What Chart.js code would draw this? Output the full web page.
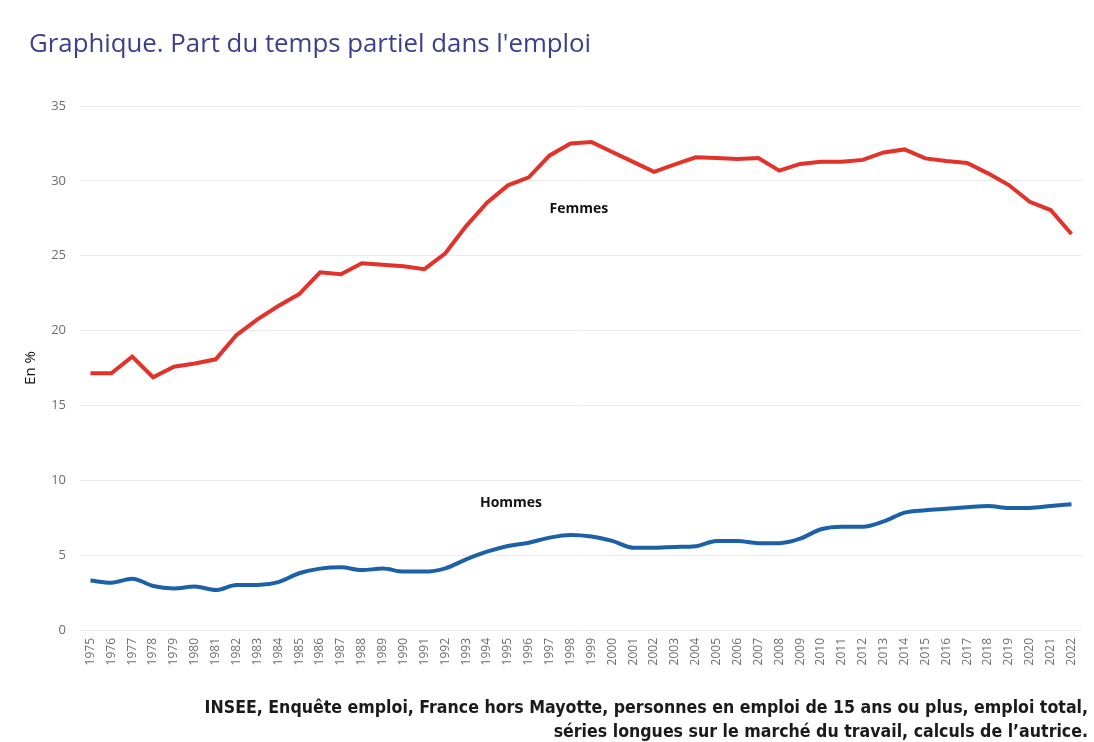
<!DOCTYPE html>
<html>
<head>
<meta charset="utf-8">
<script src="https://cdn.jsdelivr.net/npm/chart.js@4"></script>
<style>
  html, body { margin: 0; padding: 0; background: #fff; }
  #wrap { width: 1094px; height: 742px; position: relative; }
</style>
</head>
<body>
<div id="wrap"><canvas id="myChart" width="1094" height="742"></canvas></div>
<script>
const years = ["1975","1976","1977","1978","1979","1980","1981","1982","1983","1984",
  "1985","1986","1987","1988","1989","1990","1991","1992","1993","1994",
  "1995","1996","1997","1998","1999","2000","2001","2002","2003","2004",
  "2005","2006","2007","2008","2009","2010","2011","2012","2013","2014",
  "2015","2016","2017","2018","2019","2020","2021","2022"];

const femmes = [17.15, 17.15, 18.26, 16.88, 17.59, 17.8, 18.08, 19.7, 20.75, 21.64,
  22.44, 23.89, 23.76, 24.5, 24.4, 24.3, 24.1, 25.16, 26.98, 28.54,
  29.7, 30.24, 31.7, 32.5, 32.6, 31.93, 31.27, 30.6, 31.1, 31.57,
  31.53, 31.46, 31.53, 30.68, 31.13, 31.28, 31.28, 31.4, 31.9, 32.1,
  31.5, 31.33, 31.2, 30.5, 29.72, 28.6, 28.05, 26.45];

const hommes = [3.3, 3.16, 3.43, 2.94, 2.78, 2.9, 2.67, 3.0, 3.0, 3.2,
  3.79, 4.1, 4.19, 4.0, 4.1, 3.9, 3.9, 4.12, 4.72, 5.23,
  5.61, 5.83, 6.17, 6.35, 6.25, 5.95, 5.5, 5.5, 5.55, 5.6,
  5.95, 5.95, 5.8, 5.8, 6.1, 6.73, 6.9, 6.9, 7.25, 7.84,
  8.0, 8.1, 8.2, 8.28, 8.15, 8.15, 8.28, 8.4];

const yTicks = [0, 5, 10, 15, 20, 25, 30, 35];

const titleText = "Graphique. Part du temps partiel dans l'emploi";
const sourceLines = [
  "INSEE, Enquête emploi, France hors Mayotte, personnes en emploi de 15 ans ou plus, emploi total,",
  "séries longues sur le marché du travail, calculs de l’autrice."
];

// series labels drawn inside the plot (index position on the category axis, value)
const seriesLabels = [
  { text: "Femmes", x: 23.4, y: 28.1 },
  { text: "Hommes", x: 20.15, y: 8.5 }
];

const textPlugin = {
  id: "texts",
  afterDraw(chart) {
    const ctx = chart.ctx;
    const xs = chart.scales.x, ys = chart.scales.y;
    ctx.save();
    ctx.fillStyle = "#3b3f8c";
    ctx.font = "25.8px 'Open Sans'";
    ctx.textAlign = "left";
    ctx.textBaseline = "alphabetic";
    ctx.fillText(titleText, 29, 52);

    ctx.fillStyle = "#111";
    ctx.font = "bold 14px 'Open Sans'";
    ctx.textAlign = "center";
    ctx.textBaseline = "middle";
    seriesLabels.forEach(l => {
      ctx.fillText(l.text, xs.getPixelForValue(l.x), ys.getPixelForValue(l.y));
    });

    ctx.fillStyle = "#1a1a1a";
    ctx.font = "bold 17.6px 'DejaVu Sans Condensed'";
    ctx.textAlign = "right";
    ctx.textBaseline = "alphabetic";
    ctx.fillText(sourceLines[0], 1088, 713);
    ctx.fillText(sourceLines[1], 1088, 737);
    ctx.restore();
  }
};

const ctx = document.getElementById("myChart").getContext("2d");
new Chart(ctx, {
  type: "line",
  data: {
    labels: years,
    datasets: [{
      label: "Femmes",
      data: femmes,
      borderColor: "#e2322a",
      borderWidth: 4,
      pointRadius: 0,
      tension: 0
    }, {
      label: "Hommes",
      data: hommes,
      borderColor: "#1c61a8",
      borderWidth: 4,
      pointRadius: 0,
      tension: 0.4,
      cubicInterpolationMode: "monotone"
    }]
  },
  options: {
    responsive: false,
    animation: false,
    layout: { padding: { left: 22, right: 12, top: 106, bottom: 52 } },
    plugins: {
      legend: { display: false },
      tooltip: { enabled: false }
    },
    scales: {
      x: {
        offset: true,
        grid: { display: false, drawTicks: false },
        border: { display: false },
        ticks: {
          autoSkip: false,
          maxRotation: 90,
          minRotation: 90,
          padding: 8,
          color: "#6e6e6e",
          font: { family: "'Open Sans'", size: 12 }
        },
        afterFit: s => { s.height = 60; }
      },
      y: {
        min: 0,
        max: 35,
        afterBuildTicks: s => { s.ticks = yTicks.map(v => ({ value: v })); },
        grid: { color: "#ebebeb", lineWidth: 1, drawTicks: false },
        border: { display: false },
        ticks: {
          padding: 14,
          color: "#6e6e6e",
          font: { family: "'Open Sans'", size: 13 }
        },
        title: {
          display: true,
          text: "En %",
          color: "#111",
          padding: 0,
          font: { family: "'Open Sans'", size: 15 }
        },
        afterFit: s => { s.width = 58; }
      }
    }
  },
  plugins: [textPlugin]
});
</script>
</body>
</html>
